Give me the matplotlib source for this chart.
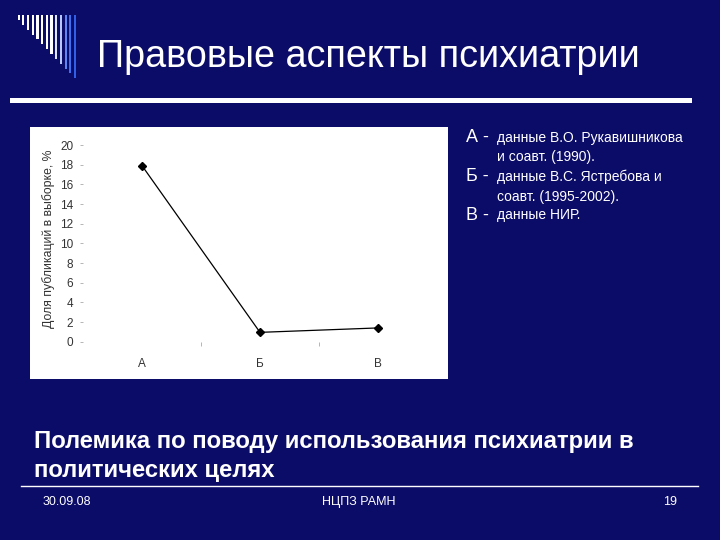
import matplotlib
matplotlib.use("Agg")
import matplotlib.pyplot as plt
from matplotlib.patches import Rectangle
from matplotlib.lines import Line2D

plt.rcParams['font.family'] = ['Liberation Sans', 'DejaVu Sans']

# ---- data ----
categories = ["А", "Б", "В"]
values = [17.9, 0.95, 1.4]
y_ticks = [0, 2, 4, 6, 8, 10, 12, 14, 16, 18, 20]
y_label = "Доля публикаций в выборке, %"
title = "Правовые аспекты психиатрии"
subtitle = "Полемика по поводу использования психиатрии в\nполитических целях"
legend_keys = ["А -", "Б -", "В -"]
legend_texts = ["данные В.О. Рукавишникова\nи соавт. (1990).",
                "данные В.С. Ястребова и\nсоавт. (1995-2002).",
                "данные НИР."]
footer_left = "30.09.08"
footer_mid = "НЦПЗ РАМН"
footer_right = "19"

W, H = 720, 540
BG = "#0b0b68"
fig = plt.figure(figsize=(7.2, 5.4), dpi=100, facecolor=BG)

def fx(px):
    return px / W

def fy(py):
    return 1 - py / H

# decorative stripes
stripe_cols = ["#ffffff"] * 8 + ["#dfe6ff", "#b8c8ff", "#5c86f5", "#3f6ef0", "#3060e8"]
for i, c in enumerate(stripe_cols):
    x = 17.5 + i * 4.7
    bottom = 20 + i * 4.85
    fig.add_artist(Rectangle((fx(x), fy(bottom)), fx(2.2), (bottom - 15) / H,
                             transform=fig.transFigure, color=c, lw=0))

# title
fig.text(fx(97), fy(57), title, color="white", fontsize=27.2, ha="left", va="center")
# white bar under title
fig.add_artist(Rectangle((fx(10), fy(103)), fx(682), 5 / H,
                         transform=fig.transFigure, color="white", lw=0))

# white chart panel
fig.add_artist(Rectangle((fx(30), fy(379)), fx(418), 252 / H,
                         transform=fig.transFigure, color="white", lw=0, zorder=0))

ax = fig.add_axes([fx(83), fy(341.7), fx(437 - 83), (341.7 - 145) / H])
ax.set_facecolor("white")
ax.patch.set_alpha(0)
x = list(range(len(categories)))
ax.plot(x, values, color="black", lw=0.9, marker="D", ms=3.8, mfc="black", mec="black")
ax.set_xlim(-0.5, len(categories) - 0.5)
ax.set_ylim(0, 20)
for s in ax.spines.values():
    s.set_visible(False)
ax.set_yticks(y_ticks)
ax.set_yticklabels([str(t) for t in y_ticks], fontsize=8.5, color="#333333")
ax.tick_params(axis="y", length=2, width=0.6, color="#aaaaaa", pad=5)
ax.set_xticks(x)
ax.set_xticklabels(categories, fontsize=8.5, color="#333333")
ax.tick_params(axis="x", length=0, pad=12)
ax.set_xticks([0.5, 1.5], minor=True)
ax.tick_params(axis="x", which="minor", length=3, width=0.6, color="#aaaaaa", direction="out")
ax.set_ylabel(y_label, fontsize=8.8, color="#333333")
ax.yaxis.set_label_coords(-0.078, 0.525)

# legend text on the right
key_y = [138, 177, 215]
for k, t, yy in zip(legend_keys, legend_texts, key_y):
    fig.text(fx(466), fy(yy), k, color="white", fontsize=13, ha="left", va="center")
    fig.text(fx(497), fy(yy - 7), t, color="white", fontsize=10, ha="left", va="top",
             linespacing=1.5)

# subtitle
fig.text(fx(34), fy(456), subtitle, color="white", fontsize=17.2, fontweight="bold",
         ha="left", va="center", linespacing=1.3)
fig.add_artist(Line2D([fx(21), fx(698)], [fy(486), fy(486)], transform=fig.transFigure,
                      color="white", lw=1))

# footer
fig.text(fx(43), fy(502), footer_left, color="white", fontsize=9, ha="left", va="center")
fig.text(fx(359), fy(502), footer_mid, color="white", fontsize=9, ha="center", va="center")
fig.text(fx(677), fy(502), footer_right, color="white", fontsize=9, ha="right", va="center")

fig.savefig("out.png", dpi=100, facecolor=BG)
